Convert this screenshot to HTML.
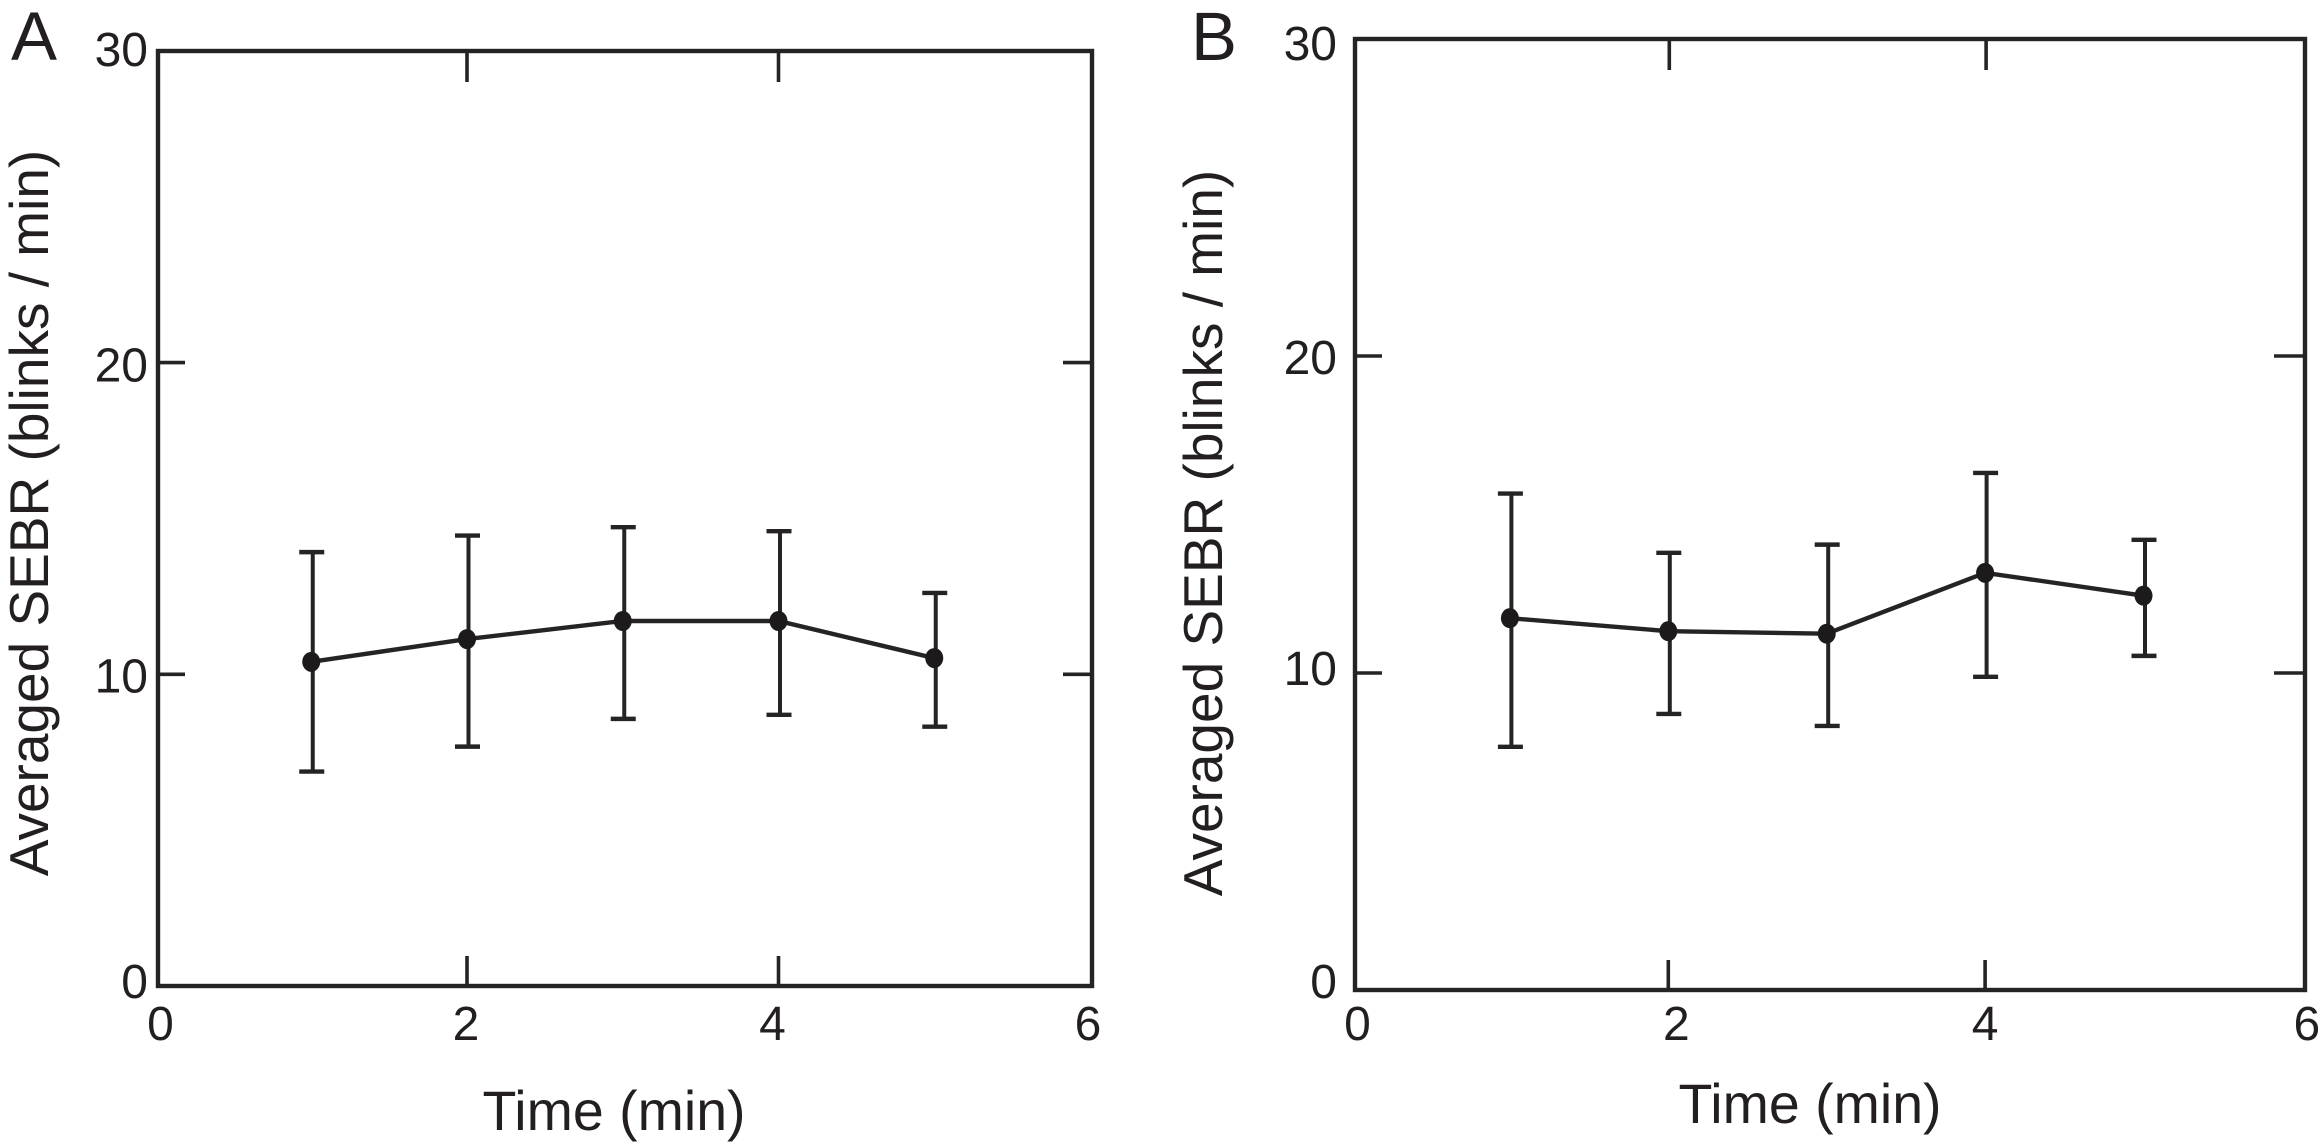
<!DOCTYPE html>
<html lang="en">
<head>
<meta charset="utf-8">
<title>Averaged SEBR over time</title>
<style>
  html, body { margin: 0; padding: 0; background: #fff; }
  body { width: 2321px; height: 1142px; overflow: hidden; }
  svg { display: block; }
  text { font-family: "Liberation Sans", Arial, sans-serif; fill: #231f20; }
</style>
</head>
<body>
<svg id="figure" xmlns="http://www.w3.org/2000/svg" width="2321" height="1142" viewBox="0 0 2321 1142">
  <rect x="0" y="0" width="2321" height="1142" fill="#ffffff"></rect>
</svg>
<script>
// Chart data
const timeMinutes = [1, 2, 3, 4, 5];
const panelAMeans = [10.40, 11.13, 11.71, 11.71, 10.52];
const panelAUpper = [13.92, 14.45, 14.72, 14.59, 12.61];
const panelALower = [6.88, 7.68, 8.57, 8.70, 8.32];
const panelBMeans = [11.73, 11.32, 11.24, 13.16, 12.44];
const panelBUpper = [15.66, 13.79, 14.05, 16.31, 14.20];
const panelBLower = [7.67, 8.71, 8.33, 9.88, 10.54];
const xTickLabels = [0, 2, 4, 6];
const yTickLabels = [0, 10, 20, 30];
const xInnerTicks = [2, 4];
const yInnerTicks = [10, 20];

const INK = '#262324';
const svg = document.getElementById('figure');

function make(parent, tag, attrs, content) {
  const el = document.createElementNS('http://www.w3.org/2000/svg', tag);
  for (const k in attrs) el.setAttribute(k, attrs[k]);
  if (content !== undefined) el.textContent = content;
  parent.appendChild(el);
  return el;
}

function drawPanel(p) {
  const xScale = v => p.xOrigin + p.xUnit * v;
  const yScale = v => p.yOrigin - p.yUnit * v;

  const g = make(svg, 'g', {});
  
  

  const letter = make(g, 'text', { x: p.letterX, y: 60, 'font-size': 69 }, p.letter);
  
  

  // Frame
  const frame = make(g, 'rect', {
    x: p.left, y: p.top, width: p.right - p.left, height: p.bottom - p.top,
    fill: 'none', stroke: INK, 'stroke-width': 4.4
  });
  
  

  // Inner ticks on all four sides
  xInnerTicks.forEach((t, i) => {
    const bottomTick = make(g, 'line', {
      x1: xScale(t), x2: xScale(t), y1: p.bottom, y2: p.bottom - 30, stroke: INK, 'stroke-width': 3.6
    });
    
    
    const topTick = make(g, 'line', {
      x1: xScale(t) + p.topTickNudge[i], x2: xScale(t) + p.topTickNudge[i],
      y1: p.top, y2: p.top + 31, stroke: INK, 'stroke-width': 3.6
    });
    
    
  });
  yInnerTicks.forEach(t => {
    const leftTick = make(g, 'line', {
      x1: p.left, x2: p.left + 27, y1: yScale(t), y2: yScale(t), stroke: INK, 'stroke-width': 3.6
    });
    
    
    const rightTick = make(g, 'line', {
      x1: p.right, x2: p.right - p.rightTickLength, y1: yScale(t), y2: yScale(t), stroke: INK, 'stroke-width': 3.6
    });
    
    
  });

  // Tick labels
  xTickLabels.forEach((t, i) => {
    const label = make(g, 'text', {
      x: xScale(t) + p.xLabelNudge[i], y: 1040, 'font-size': 48, 'text-anchor': 'middle'
    }, String(t));
    
    
  });
  yTickLabels.forEach((t, i) => {
    const label = make(g, 'text', {
      x: p.yLabelRight, y: yScale(t) + p.yLabelNudge[i], 'font-size': 48, 'text-anchor': 'end'
    }, String(t));
    
    
  });

  // Axis titles
  const xTitle = make(g, 'text', {
    x: p.xTitleX, y: p.xTitleY, 'font-size': 55.5, 'text-anchor': 'middle'
  }, 'Time (min)');
  
  

  const yTitle = make(g, 'text', {
    'font-size': 55, 'text-anchor': 'middle',
    transform: 'translate(' + p.yTitleX + ' ' + p.yTitleY + ') rotate(-90)'
  }, 'Averaged SEBR (blinks / min)');
  
  

  // Series line
  const pts = timeMinutes.map((t, i) => xScale(t) + ',' + yScale(p.means[i])).join(' ');
  const line = make(g, 'polyline', { points: pts, fill: 'none', stroke: INK, 'stroke-width': 4.4 });
  
  

  // Error bars and markers
  timeMinutes.forEach((t, i) => {
    const cx = xScale(t);
    const stem = make(g, 'line', {
      x1: cx + 1.5, x2: cx + 1.5, y1: yScale(p.upper[i]), y2: yScale(p.lower[i]),
      stroke: INK, 'stroke-width': 4
    });
    
    

    const capTop = make(g, 'line', {
      x1: cx - 12, x2: cx + 13, y1: yScale(p.upper[i]), y2: yScale(p.upper[i]),
      stroke: INK, 'stroke-width': 4.4
    });
    
    

    const capBottom = make(g, 'line', {
      x1: cx - 12, x2: cx + 13, y1: yScale(p.lower[i]), y2: yScale(p.lower[i]),
      stroke: INK, 'stroke-width': 4.4
    });
    
    

    const marker = make(g, 'ellipse', {
      cx: cx, cy: yScale(p.means[i]), rx: 9, ry: 10, fill: '#1c1a1b'
    });
    
    
  });
}

drawPanel({
  key: 'a', letter: 'A', letterX: 11,
  left: 158, right: 1092, top: 51, bottom: 986,
  xOrigin: 155.5, xUnit: 155.75,
  yOrigin: 986, yUnit: 31.17,
  means: panelAMeans, upper: panelAUpper, lower: panelALower,
  xLabelNudge: [5, -1, -6, -2],
  yLabelNudge: [12, 18, 19, 15],
  topTickNudge: [0, 0],
  rightTickLength: 29,
  yLabelRight: 148,
  xTitleX: 614, xTitleY: 1130,
  yTitleX: 48, yTitleY: 513
});

drawPanel({
  key: 'b', letter: 'B', letterX: 1191,
  left: 1355, right: 2305, top: 39, bottom: 990,
  xOrigin: 1351.5, xUnit: 158.4,
  yOrigin: 990, yUnit: 31.7,
  means: panelBMeans, upper: panelBUpper, lower: panelBLower,
  xLabelNudge: [6, 8, 0, 5],
  yLabelNudge: [8, 12, 18, 21],
  topTickNudge: [1, 1],
  rightTickLength: 31,
  yLabelRight: 1337,
  xTitleX: 1810, xTitleY: 1123,
  yTitleX: 1222, yTitleY: 533
});
</script>
</body>
</html>
